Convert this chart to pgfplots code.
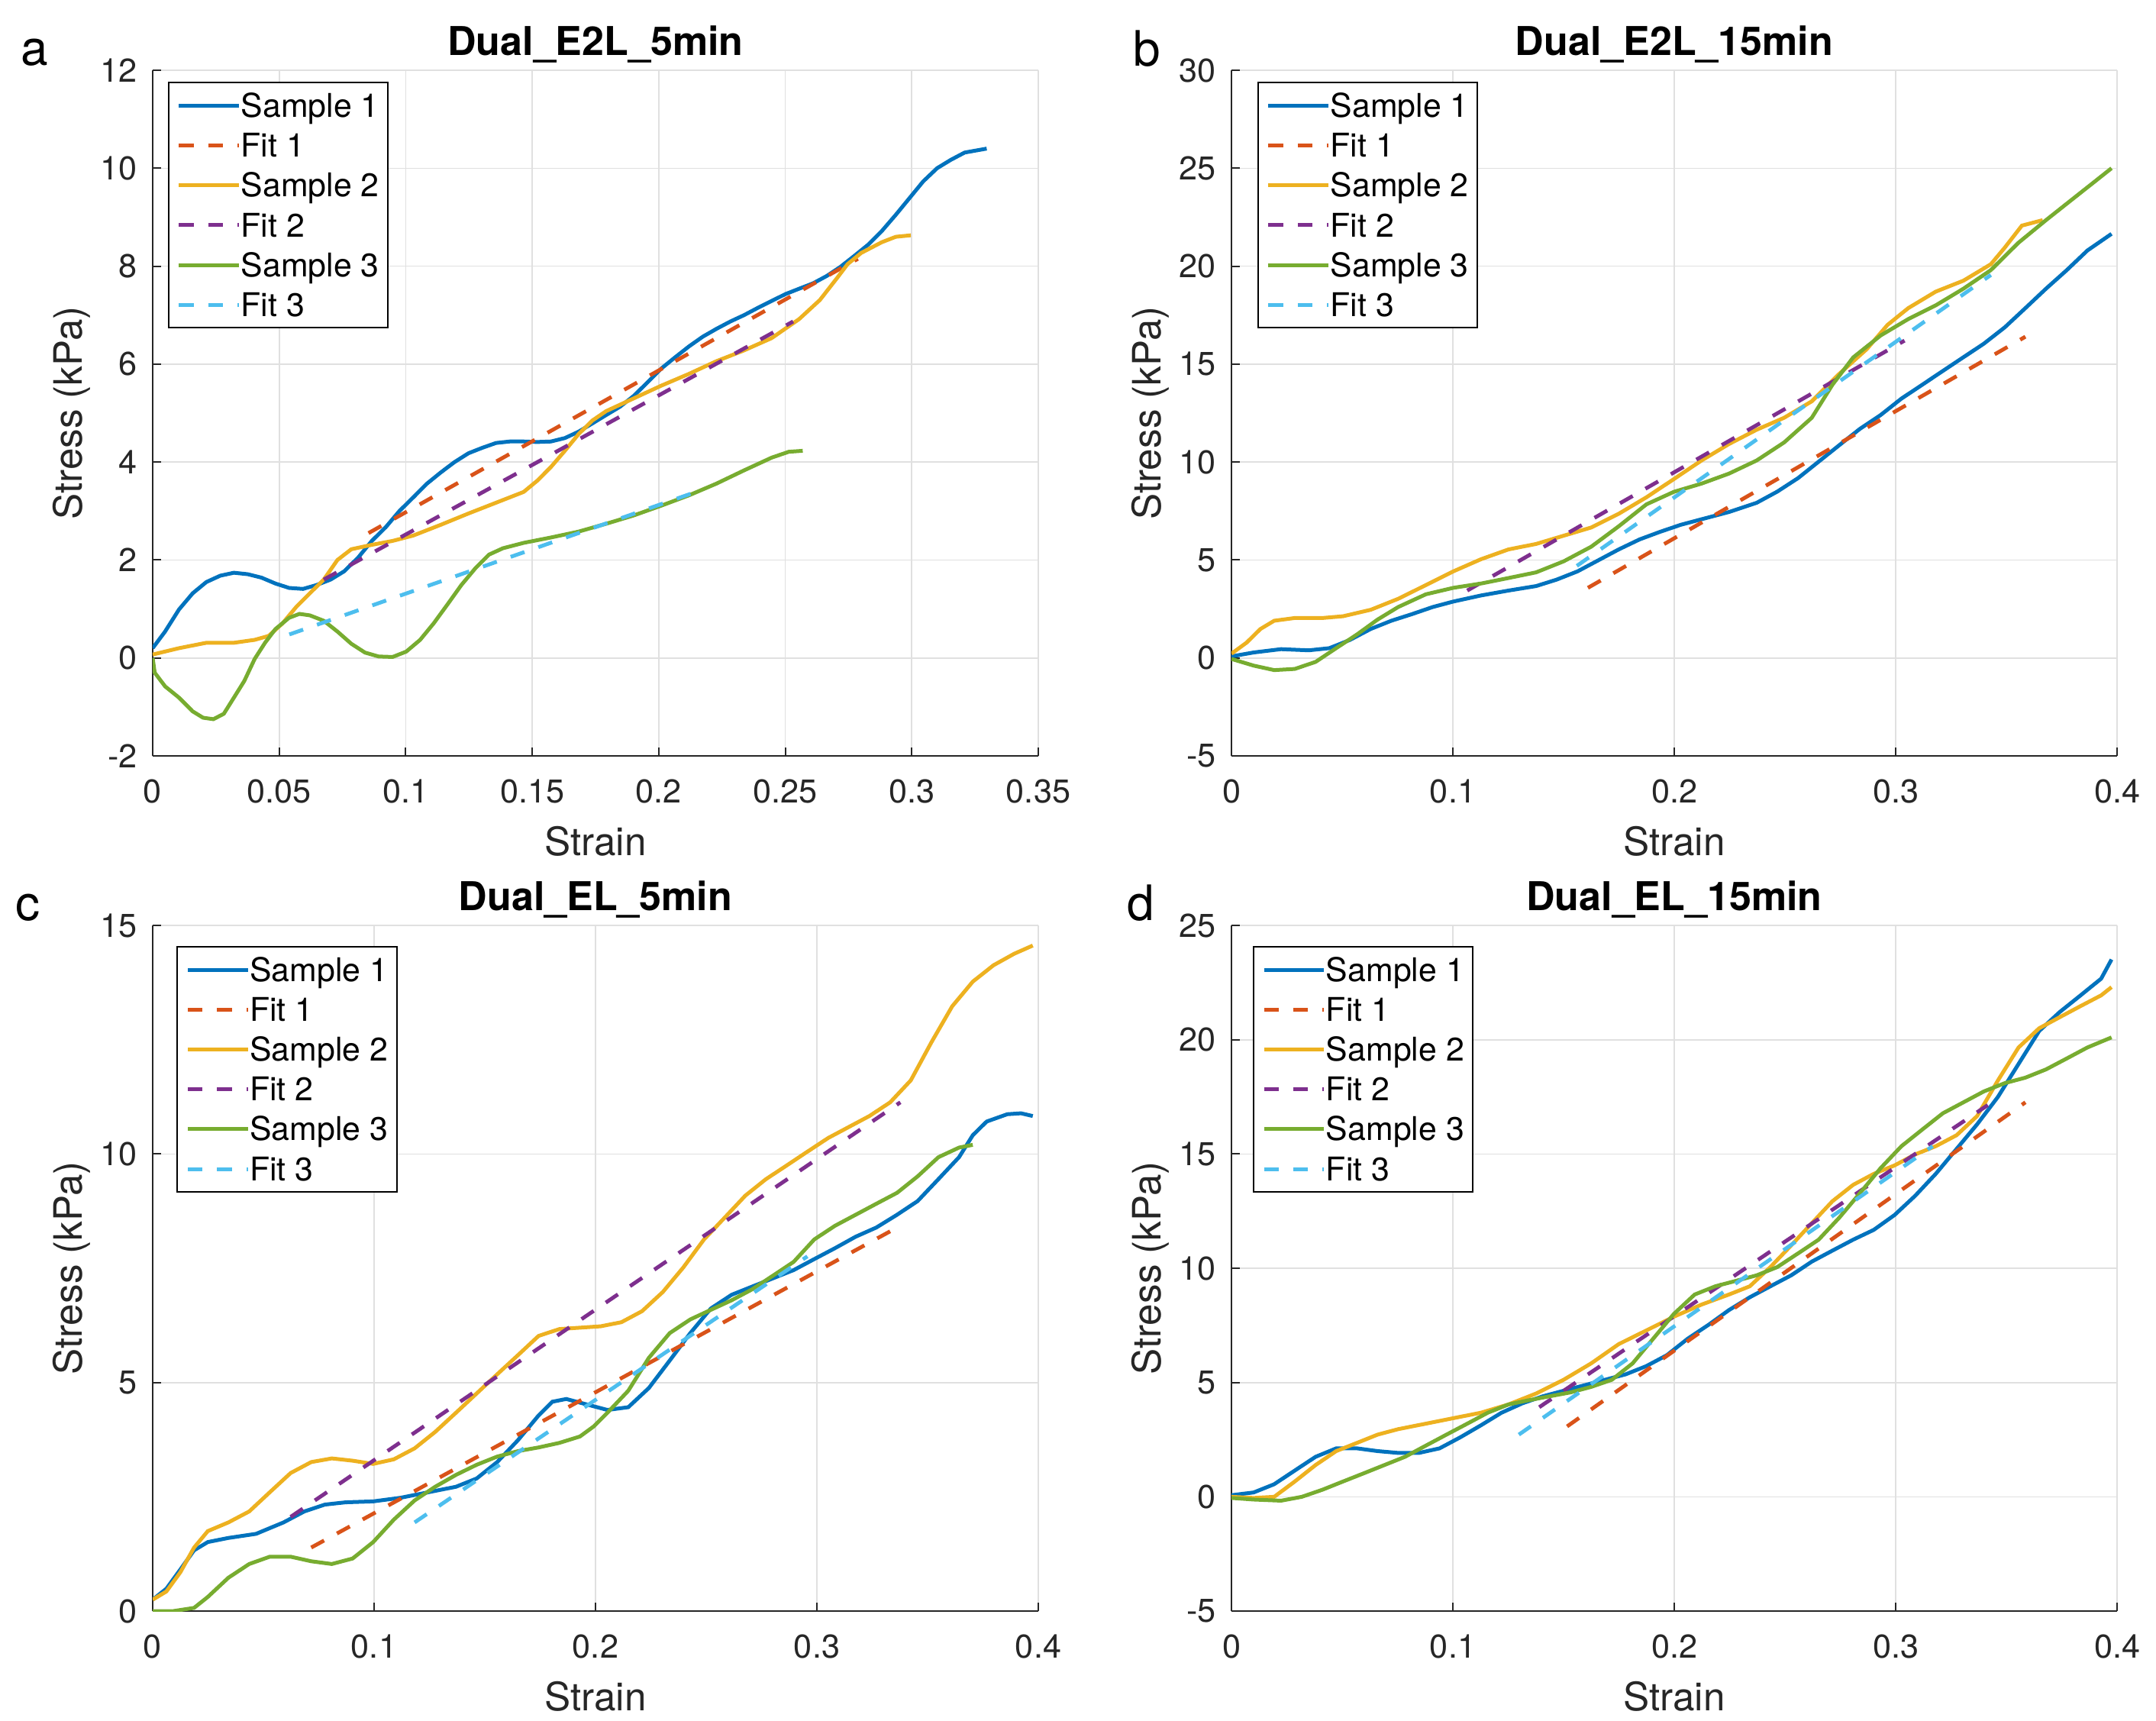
\documentclass[border=0pt]{standalone}
\usepackage{fontspec}
\setmainfont{TeX Gyre Heros}
\usepackage{pgfplots}
\pgfplotsset{compat=1.18}

\definecolor{mblue}{rgb}{0,0.447,0.741}
\definecolor{morange}{rgb}{0.850,0.325,0.098}
\definecolor{myellow}{rgb}{0.929,0.694,0.125}
\definecolor{mpurple}{rgb}{0.494,0.184,0.556}
\definecolor{mgreen}{rgb}{0.466,0.674,0.188}
\definecolor{mcyan}{rgb}{0.301,0.745,0.933}
\definecolor{axc}{gray}{0.15}
\definecolor{gridc}{gray}{0.88}

\pgfplotsset{
  panel/.style={
    width=290pt, height=224.5pt, scale only axis,
    axis x line*=bottom, axis y line*=left,
    axis line style={draw=axc, line width=0.5pt},
    every tick/.style={draw=axc, line width=0.5pt},
    tick align=inside, major tick length=2.75pt,
    grid=major, grid style={draw=gridc, line width=0.4pt},
    tick label style={font=\fontsize{10.8}{12}\selectfont, text=axc},
    xticklabel style={anchor=base, yshift=-15.25pt},
    yticklabel style={xshift=-1.5pt},
    label style={font=\fontsize{12.8}{14}\selectfont, text=axc},
    xlabel={Strain}, ylabel={Stress (kPa)},
    xlabel style={at={(axis description cs:0.5,-0.125)}, anchor=center},
    ylabel style={at={(axis description cs:-0.0914,0.5)}, anchor=center},
    title style={font=\bfseries\fontsize{13}{15}\selectfont,
      at={(axis description cs:0.5,1)}, anchor=base, yshift=-1.2pt},
    legend cell align=left,
    legend image code/.code={\draw[##1] (0pt,0pt) -- (19.7pt,0pt);},
    legend style={draw=black, line width=0.5pt, fill=white,
      inner xsep=2.8pt, inner ysep=1pt, column sep=0pt, row sep=0pt,
      font=\fontsize{10.7}{12}\selectfont,
      nodes={inner xsep=0pt, inner ysep=0pt, text height=10.3pt, text depth=2.75pt}},
  },
  samp/.style={solid, line width=1.25pt},
  fitl/.style={dash pattern=on 4.8pt off 4.8pt, line width=1.25pt},
}

\begin{document}
\begin{tikzpicture}

% ---------------- a ----------------
\begin{axis}[panel, at={(50pt,-23pt)}, anchor=north west,
  title={Dual\_E2L\_5min},
  xmin=0, xmax=0.35, ymin=-2, ymax=12,
  xtick={0,0.05,0.1,0.15,0.2,0.25,0.3,0.35},
  xticklabels={0,0.05,0.1,0.15,0.2,0.25,0.3,0.35},
  ytick={-2,0,2,4,6,8,10,12},
  yticklabels={-2,0,2,4,6,8,10,12},
  legend style={at={(0.017,0.983)}, anchor=north west}]
\addplot[samp, mblue] coordinates {
(0,0.2)(0.0049,0.54)(0.0104,0.99)(0.0158,1.32)(0.0212,1.55)(0.0267,1.68)(0.0321,1.74)(0.0376,1.71)(0.0430,1.64)(0.0485,1.52)(0.0539,1.43)(0.0594,1.41)(0.0648,1.49)(0.0703,1.60)(0.0757,1.77)(0.0812,2.05)(0.0866,2.39)(0.0921,2.67)(0.0975,3.00)(0.1030,3.28)(0.1084,3.56)(0.1139,3.79)(0.1193,4.00)(0.1248,4.18)(0.1302,4.29)(0.1357,4.39)(0.1411,4.42)(0.1466,4.42)(0.1520,4.41)(0.1574,4.42)(0.1629,4.49)(0.1683,4.62)(0.1738,4.79)(0.1792,4.96)(0.1847,5.13)(0.1901,5.35)(0.1956,5.63)(0.2010,5.91)(0.2065,6.14)(0.2119,6.36)(0.2174,6.56)(0.2228,6.72)(0.2283,6.87)(0.2337,7.00)(0.2392,7.15)(0.2446,7.29)(0.2501,7.43)(0.2555,7.54)(0.2610,7.65)(0.2664,7.80)(0.2719,7.99)(0.2773,8.21)(0.2828,8.44)(0.2882,8.72)(0.2937,9.05)(0.2991,9.39)(0.3045,9.73)(0.3100,10.00)(0.3154,10.17)(0.3209,10.32)(0.3296,10.40)
};
\addplot[fitl, morange] coordinates {(0.0853,2.55)(0.2787,8.15)};
\addplot[samp, myellow] coordinates {
(0,0.07)(0.0104,0.20)(0.0212,0.31)(0.0321,0.31)(0.0403,0.37)(0.0458,0.45)(0.0512,0.70)(0.0567,1.04)(0.0621,1.32)(0.0676,1.60)(0.0730,2.00)(0.0785,2.22)(0.0866,2.31)(0.0948,2.39)(0.1030,2.50)(0.1139,2.72)(0.1248,2.95)(0.1357,3.17)(0.1466,3.39)(0.1520,3.62)(0.1574,3.90)(0.1629,4.23)(0.1683,4.57)(0.1738,4.85)(0.1792,5.04)(0.1901,5.30)(0.2010,5.56)(0.2119,5.80)(0.2228,6.06)(0.2337,6.28)(0.2446,6.53)(0.2555,6.92)(0.2637,7.31)(0.2705,7.76)(0.2746,8.04)(0.2800,8.27)(0.2882,8.49)(0.2937,8.60)(0.2996,8.63)
};
\addplot[fitl, mpurple] coordinates {(0.0676,1.6)(0.2531,6.87)};
\addplot[samp, mgreen] coordinates {
(0,0)(0.0008,-0.30)(0.0049,-0.58)(0.0104,-0.81)(0.0158,-1.09)(0.0199,-1.22)(0.0240,-1.25)(0.0281,-1.14)(0.0321,-0.81)(0.0362,-0.47)(0.0403,-0.02)(0.0444,0.31)(0.0485,0.59)(0.0539,0.82)(0.0580,0.90)(0.0621,0.87)(0.0676,0.76)(0.0730,0.54)(0.0785,0.29)(0.0839,0.11)(0.0893,0.03)(0.0948,0.02)(0.1002,0.13)(0.1057,0.37)(0.1111,0.71)(0.1166,1.10)(0.1220,1.49)(0.1275,1.83)(0.1329,2.11)(0.1384,2.24)(0.1466,2.35)(0.1574,2.46)(0.1683,2.58)(0.1792,2.74)(0.1901,2.91)(0.2010,3.11)(0.2119,3.32)(0.2228,3.56)(0.2337,3.83)(0.2446,4.09)(0.2514,4.21)(0.2569,4.23)
};
\addplot[fitl, mcyan] coordinates {(0.054,0.48)(0.2147,3.39)};
\legend{Sample 1,Fit 1,Sample 2,Fit 2,Sample 3,Fit 3}
\end{axis}

% ---------------- b ----------------
\begin{axis}[panel, at={(403.25pt,-23pt)}, anchor=north west,
  title={Dual\_E2L\_15min},
  xmin=0, xmax=0.4, ymin=-5, ymax=30,
  xtick={0,0.1,0.2,0.3,0.4},
  xticklabels={0,0.1,0.2,0.3,0.4},
  ytick={-5,0,5,10,15,20,25,30},
  yticklabels={-5,0,5,10,15,20,25,30},
  legend style={at={(0.029,0.983)}, anchor=north west}]
\addplot[samp, mblue] coordinates {
(0,0.08)(0.0100,0.28)(0.0224,0.45)(0.0349,0.39)(0.0442,0.50)(0.0535,0.92)(0.0629,1.48)(0.0722,1.90)(0.0816,2.24)(0.0909,2.60)(0.1002,2.88)(0.1127,3.19)(0.1251,3.44)(0.1376,3.67)(0.1469,4.00)(0.1563,4.42)(0.1656,4.98)(0.1749,5.54)(0.1843,6.05)(0.1936,6.44)(0.2030,6.80)(0.2123,7.08)(0.2247,7.45)(0.2372,7.92)(0.2465,8.49)(0.2559,9.18)(0.2652,10.02)(0.2745,10.86)(0.2839,11.70)(0.2932,12.40)(0.3026,13.24)(0.3119,13.94)(0.3213,14.65)(0.3306,15.35)(0.3399,16.05)(0.3493,16.88)(0.3586,17.86)(0.3679,18.85)(0.3773,19.80)(0.3866,20.80)(0.3975,21.65)
};
\addplot[fitl, morange] coordinates {(0.161,3.58)(0.3586,16.4)};
\addplot[samp, myellow] coordinates {
(0,0.22)(0.0068,0.78)(0.0131,1.48)(0.0193,1.90)(0.0286,2.04)(0.0411,2.04)(0.0504,2.13)(0.0629,2.46)(0.0753,3.02)(0.0878,3.72)(0.1002,4.42)(0.1127,5.04)(0.1251,5.54)(0.1376,5.82)(0.1500,6.24)(0.1625,6.66)(0.1749,7.36)(0.1874,8.20)(0.1998,9.13)(0.2123,10.08)(0.2247,10.92)(0.2372,11.65)(0.2496,12.26)(0.2621,13.10)(0.2745,14.50)(0.2870,15.77)(0.2963,17.00)(0.3057,17.86)(0.3181,18.70)(0.3306,19.26)(0.3430,20.10)(0.3493,20.95)(0.3570,22.07)(0.3664,22.35)
};
\addplot[fitl, mpurple] coordinates {(0.1065,3.44)(0.304,16.2)};
\addplot[samp, mgreen] coordinates {
(0,-0.05)(0.0100,-0.39)(0.0193,-0.62)(0.0286,-0.56)(0.0380,-0.20)(0.0473,0.50)(0.0567,1.20)(0.0660,1.96)(0.0753,2.60)(0.0878,3.25)(0.1002,3.58)(0.1127,3.80)(0.1251,4.08)(0.1376,4.37)(0.1500,4.93)(0.1625,5.68)(0.1749,6.72)(0.1874,7.84)(0.1998,8.48)(0.2123,8.90)(0.2247,9.41)(0.2372,10.08)(0.2496,11.00)(0.2621,12.26)(0.2714,13.94)(0.2808,15.34)(0.2932,16.46)(0.3057,17.30)(0.3181,18.00)(0.3306,18.85)(0.3430,19.80)(0.3555,21.20)(0.3679,22.35)(0.3804,23.47)(0.3897,24.30)(0.3975,25.00)
};
\addplot[fitl, mcyan] coordinates {(0.156,4.7)(0.343,19.55)};
\legend{Sample 1,Fit 1,Sample 2,Fit 2,Sample 3,Fit 3}
\end{axis}

% ---------------- c ----------------
\begin{axis}[panel, at={(50pt,-303pt)}, anchor=north west,
  title={Dual\_EL\_5min},
  xmin=0, xmax=0.4, ymin=0, ymax=15,
  xtick={0,0.1,0.2,0.3,0.4},
  xticklabels={0,0.1,0.2,0.3,0.4},
  ytick={0,5,10,15},
  yticklabels={0,5,10,15},
  legend style={at={(0.027,0.97)}, anchor=north west}]
\addplot[samp, mblue] coordinates {
(0,0.25)(0.0062,0.49)(0.0125,0.91)(0.0187,1.33)(0.0249,1.51)(0.0342,1.60)(0.0467,1.69)(0.0591,1.94)(0.0685,2.18)(0.0778,2.33)(0.0872,2.38)(0.0996,2.40)(0.1121,2.48)(0.1245,2.60)(0.1370,2.72)(0.1463,2.90)(0.1556,3.26)(0.1650,3.74)(0.1743,4.28)(0.1805,4.58)(0.1868,4.64)(0.1961,4.52)(0.2054,4.40)(0.2148,4.46)(0.2241,4.88)(0.2335,5.48)(0.2428,6.08)(0.2521,6.62)(0.2615,6.92)(0.2708,7.10)(0.2802,7.28)(0.2895,7.46)(0.2988,7.70)(0.3082,7.94)(0.3175,8.19)(0.3268,8.39)(0.3362,8.67)(0.3455,8.97)(0.3549,9.45)(0.3642,9.93)(0.3704,10.41)(0.3767,10.71)(0.3860,10.87)(0.3922,10.89)(0.3975,10.83)
};
\addplot[fitl, morange] coordinates {(0.0716,1.39)(0.3377,8.43)};
\addplot[samp, myellow] coordinates {
(0,0.25)(0.0062,0.43)(0.0125,0.85)(0.0187,1.39)(0.0249,1.75)(0.0342,1.94)(0.0436,2.18)(0.0529,2.60)(0.0623,3.02)(0.0716,3.26)(0.0809,3.34)(0.0903,3.29)(0.0996,3.22)(0.1089,3.32)(0.1183,3.56)(0.1276,3.92)(0.1370,4.34)(0.1463,4.76)(0.1556,5.18)(0.1650,5.60)(0.1743,6.02)(0.1837,6.17)(0.1930,6.20)(0.2023,6.23)(0.2117,6.32)(0.2210,6.56)(0.2304,6.98)(0.2397,7.52)(0.2490,8.13)(0.2584,8.61)(0.2677,9.09)(0.2770,9.45)(0.2864,9.75)(0.2957,10.05)(0.3051,10.35)(0.3144,10.59)(0.3237,10.83)(0.3331,11.13)(0.3424,11.61)(0.3518,12.45)(0.3611,13.23)(0.3704,13.77)(0.3798,14.13)(0.3891,14.38)(0.3975,14.56)
};
\addplot[fitl, mpurple] coordinates {(0.0623,2.06)(0.3377,11.13)};
\addplot[samp, mgreen] coordinates {
(0,0)(0.0093,0)(0.0187,0.07)(0.0249,0.31)(0.0342,0.73)(0.0436,1.03)(0.0529,1.19)(0.0623,1.19)(0.0716,1.09)(0.0809,1.03)(0.0903,1.15)(0.0996,1.51)(0.1089,2.00)(0.1183,2.42)(0.1276,2.72)(0.1370,2.98)(0.1463,3.20)(0.1556,3.38)(0.1650,3.50)(0.1743,3.58)(0.1837,3.68)(0.1930,3.82)(0.1992,4.04)(0.2054,4.34)(0.2148,4.82)(0.2241,5.54)(0.2335,6.08)(0.2428,6.38)(0.2521,6.59)(0.2615,6.80)(0.2708,7.04)(0.2802,7.34)(0.2895,7.64)(0.2988,8.13)(0.3082,8.43)(0.3175,8.67)(0.3268,8.91)(0.3362,9.15)(0.3455,9.51)(0.3549,9.93)(0.3642,10.14)(0.3704,10.20)
};
\addplot[fitl, mcyan] coordinates {(0.1183,1.94)(0.2957,7.76)};
\legend{Sample 1,Fit 1,Sample 2,Fit 2,Sample 3,Fit 3}
\end{axis}

% ---------------- d ----------------
\begin{axis}[panel, at={(403.25pt,-303pt)}, anchor=north west,
  title={Dual\_EL\_15min},
  xmin=0, xmax=0.4, ymin=-5, ymax=25,
  xtick={0,0.1,0.2,0.3,0.4},
  xticklabels={0,0.1,0.2,0.3,0.4},
  ytick={-5,0,5,10,15,20,25},
  yticklabels={-5,0,5,10,15,20,25},
  legend style={at={(0.024,0.97)}, anchor=north west}]
\addplot[samp, mblue] coordinates {
(0,0.07)(0.0100,0.19)(0.0193,0.55)(0.0286,1.15)(0.0380,1.75)(0.0473,2.12)(0.0567,2.12)(0.0660,2.00)(0.0753,1.92)(0.0847,1.92)(0.0940,2.12)(0.1033,2.60)(0.1127,3.13)(0.1220,3.68)(0.1314,4.09)(0.1407,4.40)(0.1500,4.64)(0.1594,4.88)(0.1687,5.12)(0.1781,5.36)(0.1874,5.72)(0.1967,6.20)(0.2061,6.92)(0.2154,7.52)(0.2247,8.17)(0.2341,8.73)(0.2434,9.21)(0.2528,9.69)(0.2621,10.29)(0.2714,10.77)(0.2808,11.25)(0.2901,11.68)(0.2995,12.33)(0.3088,13.17)(0.3181,14.13)(0.3275,15.22)(0.3368,16.30)(0.3462,17.50)(0.3555,18.94)(0.3648,20.38)(0.3742,21.22)(0.3835,21.94)(0.3928,22.67)(0.3975,23.51)
};
\addplot[fitl, morange] coordinates {(0.1516,3.08)(0.3586,17.26)};
\addplot[samp, myellow] coordinates {
(0,0)(0.0100,-0.05)(0.0193,0)(0.0286,0.67)(0.0380,1.39)(0.0473,2.00)(0.0567,2.36)(0.0660,2.72)(0.0753,2.96)(0.0878,3.20)(0.1002,3.44)(0.1127,3.68)(0.1251,4.04)(0.1376,4.52)(0.1500,5.12)(0.1625,5.84)(0.1749,6.68)(0.1874,7.28)(0.1998,7.88)(0.2123,8.41)(0.2247,8.85)(0.2341,9.21)(0.2434,10.05)(0.2528,11.00)(0.2621,11.97)(0.2714,12.93)(0.2808,13.65)(0.2901,14.13)(0.2995,14.50)(0.3088,14.98)(0.3181,15.34)(0.3275,15.82)(0.3368,16.66)(0.3462,18.22)(0.3555,19.66)(0.3648,20.50)(0.3742,20.99)(0.3835,21.47)(0.3928,21.94)(0.3975,22.30)
};
\addplot[fitl, mpurple] coordinates {(0.139,3.92)(0.3416,17.14)};
\addplot[samp, mgreen] coordinates {
(0,-0.05)(0.0100,-0.12)(0.0224,-0.17)(0.0318,0)(0.0411,0.31)(0.0504,0.67)(0.0598,1.03)(0.0691,1.39)(0.0784,1.75)(0.0878,2.24)(0.0971,2.72)(0.1065,3.20)(0.1158,3.68)(0.1251,4.04)(0.1345,4.23)(0.1438,4.40)(0.1532,4.57)(0.1625,4.81)(0.1718,5.12)(0.1812,5.84)(0.1905,6.92)(0.1998,8.00)(0.2092,8.85)(0.2185,9.21)(0.2279,9.45)(0.2372,9.69)(0.2465,10.05)(0.2559,10.65)(0.2652,11.25)(0.2745,12.21)(0.2839,13.29)(0.2932,14.38)(0.3026,15.34)(0.3119,16.06)(0.3213,16.78)(0.3306,17.26)(0.3399,17.74)(0.3493,18.10)(0.3586,18.34)(0.3679,18.70)(0.3773,19.18)(0.3866,19.66)(0.3975,20.10)
};
\addplot[fitl, mcyan] coordinates {(0.1298,2.72)(0.3167,15.34)};
\legend{Sample 1,Fit 1,Sample 2,Fit 2,Sample 3,Fit 3}
\end{axis}

% panel letters
\begin{scope}[every node/.style={anchor=base west, inner sep=0pt, font=\fontsize{16}{18}\selectfont}]
\node at (6.75pt,-21.25pt) {a};
\node at (371pt,-21.5pt) {b};
\node at (5pt,-301.25pt) {c};
\node at (369pt,-301.25pt) {d};
\end{scope}

\pgfresetboundingbox
\path[use as bounding box] (0,0) rectangle (706pt,-563.25pt);
\end{tikzpicture}
\end{document}
